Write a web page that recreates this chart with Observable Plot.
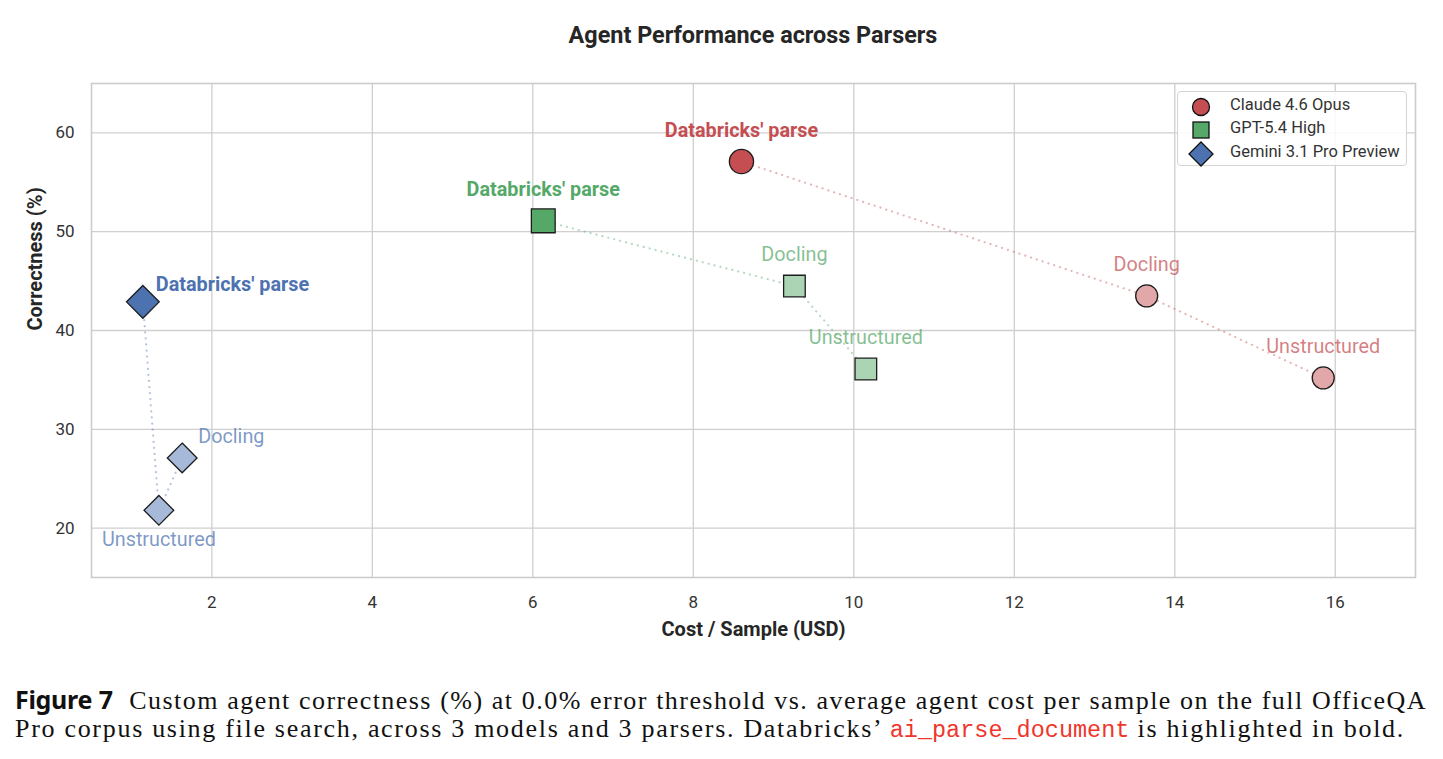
<!DOCTYPE html>
<html><head><meta charset="utf-8">
<script src="https://cdn.jsdelivr.net/npm/d3@7"></script>
<script src="https://cdn.jsdelivr.net/npm/@observablehq/plot@0.6"></script>
<style>
body{margin:0;background:#fff;}
#page{position:relative;width:1443px;height:759px;overflow:hidden;background:#fff;}
#title{position:absolute;top:0;left:91px;width:1324px;height:60px;font:700 23.4px Roboto;color:#262626;text-align:center;line-height:23px;padding-top:24px;box-sizing:border-box;}
#chart{position:absolute;top:60px;left:0;}
#legend{position:absolute;left:1177px;top:91px;width:230px;height:75px;border:1px solid #d4d4d4;border-radius:4px;background:rgba(255,255,255,0.85);box-sizing:border-box;font:16.5px Roboto;color:#333;}
.row{position:absolute;left:0;width:228px;height:24px;}
.row svg{position:absolute;left:9px;top:0;}
.row span{position:absolute;left:52px;top:1px;line-height:20px;white-space:nowrap;}
#cap{position:absolute;left:15px;top:682px;width:1412px;font:26px 'Liberation Serif',serif;line-height:26px;color:#111;}
#cap .l1{text-align:justify;text-align-last:justify;}
#cap .l2{white-space:nowrap;display:inline-block;}
#cap .fig{font:700 25px 'Noto Sans',sans-serif;letter-spacing:-0.3px;}
#cap .code{font:23.5px 'Liberation Mono',monospace;color:#f0352b;letter-spacing:0px;}
</style>
</head><body>
<div id="page">
  <div id="title">Agent Performance across Parsers</div>
  <div id="chart"></div>
  <div id="legend"></div>
  <div id="cap">
    <div class="l1" id="l1"><span class="fig">Figure 7</span>&nbsp; Custom agent correctness (%) at 0.0% error threshold vs. average agent cost per sample on the full OfficeQA</div>
    <div class="l2" id="l2">Pro corpus using file search, across 3 models and 3 parsers. Databricks’ <span class="code">ai_parse_document</span> is highlighted in bold.</div>
  </div>
</div>
<script>
// ---------- data ----------
const models = ["Claude 4.6 Opus", "GPT-5.4 High", "Gemini 3.1 Pro Preview"];
const parsers = ["Databricks' parse", "Docling", "Unstructured"];
const claudeCost = [8.60, 13.65, 15.85];
const claudeCorrect = [57.1, 43.5, 35.2];
const gptCost = [6.13, 9.26, 10.15];
const gptCorrect = [51.1, 44.5, 36.1];
const geminiCost = [1.14, 1.63, 1.34];
const geminiCorrect = [42.9, 27.1, 21.8];
const xTicks = [2, 4, 6, 8, 10, 12, 14, 16];
const yTicks = [20, 30, 40, 50, 60];

// ---------- styling ----------
const modelColor = {
  [models[0]]: "#C44E52",
  [models[1]]: "#55A868",
  [models[2]]: "#4C72B0"
};
const modelSymbol = {[models[0]]: "circle", [models[1]]: "square", [models[2]]: "diamond2"};
const baseR = {[models[0]]: 11, [models[1]]: 12.2, [models[2]]: 13.4};
const light = c => d3.interpolateRgb("#ffffff", c)(0.5);

const costs = [claudeCost, gptCost, geminiCost];
const corrects = [claudeCorrect, gptCorrect, geminiCorrect];
const data = [];
models.forEach((m, i) => parsers.forEach((p, j) => data.push({model: m, parser: p, cost: costs[i][j], correct: corrects[i][j]})));
const isMain = d => d.parser === parsers[0];
const lineData = d3.sort(data, d => d.cost);

function placement(d) {
  if (d.model === models[2]) {
    if (d.parser === parsers[0]) return "gemTop";
    if (d.parser === parsers[1]) return "gemDoc";
    return "below";
  }
  return "above";
}

const marks = [
  Plot.gridX(xTicks, {stroke: "#cfcfcf", strokeOpacity: 1, strokeWidth: 1.3}),
  Plot.gridY(yTicks, {stroke: "#cfcfcf", strokeOpacity: 1, strokeWidth: 1.3}),
  Plot.frame({stroke: "#cccccc", strokeWidth: 1.6}),
  Plot.axisX(xTicks, {tickSize: 0, tickPadding: 18, fontSize: 17, color: "#333", label: null}),
  Plot.axisY(yTicks, {tickSize: 0, tickPadding: 17, fontSize: 17, color: "#333", label: null}),
  Plot.text(["Cost / Sample (USD)"], {frameAnchor: "bottom", dy: 52, lineAnchor: "middle", fontSize: 20, fontWeight: 700, fill: "#262626"}),
  Plot.text(["Correctness (%)"], {frameAnchor: "left", dx: -56, rotate: -90, lineAnchor: "middle", fontSize: 20, fontWeight: 700, fill: "#262626"}),
  Plot.line(lineData, {x: "cost", y: "correct", z: "model", stroke: d => modelColor[d.model], strokeOpacity: 0.42, strokeWidth: 2.2, strokeDasharray: "0.1,6", strokeLinecap: "round"})
];

for (const m of models) {
  for (const main of [true, false]) {
    marks.push(Plot.dot(data.filter(d => d.model === m && isMain(d) === main), {
      x: "cost", y: "correct", symbol: modelSymbol[m],
      r: baseR[m] * (main ? 1.1 : 1),
      fill: main ? modelColor[m] : light(modelColor[m]),
      stroke: "#1c1c1c", strokeWidth: 1.3
    }));
  }
}

const labelCommon = {x: "cost", y: "correct", text: "parser", fill: d => modelColor[d.model], fontSize: 19.8, lineAnchor: "middle"};
marks.push(
  Plot.text(data.filter(d => placement(d) === "above" && isMain(d)), {...labelCommon, dy: -31, fontWeight: 700}),
  Plot.text(data.filter(d => placement(d) === "above" && !isMain(d)), {...labelCommon, dy: -31, fillOpacity: 0.72}),
  Plot.text(data.filter(d => placement(d) === "gemTop"), {...labelCommon, dx: 13, dy: -17, textAnchor: "start", fontWeight: 700}),
  Plot.text(data.filter(d => placement(d) === "gemDoc"), {...labelCommon, dx: 16, dy: -21, textAnchor: "start", fillOpacity: 0.72}),
  Plot.text(data.filter(d => placement(d) === "below"), {...labelCommon, dy: 29, fillOpacity: 0.72})
);

const chart = Plot.plot({
  width: 1443, height: 595,
  marginTop: 23, marginBottom: 78, marginLeft: 91, marginRight: 28,
  x: {domain: [0.5, 17]},
  y: {domain: [15, 65]},
  color: {type: "identity"},
  style: {fontFamily: "Roboto", background: "transparent", color: "#333"},
  marks
});
document.getElementById("chart").appendChild(chart);

// ---------- legend ----------
const legend = document.getElementById("legend");
const rowTops = [2, 25, 48];
const legendShapes = [
  c => `<circle cx="14" cy="12" r="8.5" fill="${c}" stroke="#111" stroke-width="1.3"/>`,
  c => `<rect x="6" y="4" width="16" height="16" fill="${c}" stroke="#111" stroke-width="1.3"/>`,
  c => `<path d="M14,0 L26,12 L14,24 L2,12 Z" fill="${c}" stroke="#111" stroke-width="1.3"/>`
];
models.forEach((m, i) => {
  const row = document.createElement("div");
  row.className = "row";
  row.style.top = (rowTops[i] + (i === 2 ? 1 : 0)) + "px";
  row.innerHTML = `<svg width="28" height="26" viewBox="0 -1 28 26">${legendShapes[i](modelColor[m])}</svg><span>${m}</span>`;
  legend.appendChild(row);
});

// ---------- caption fitting ----------
function fit(el, target) {
  el.style.letterSpacing = "0px";
  const r = document.createRange(); r.selectNodeContents(el);
  const w = r.getBoundingClientRect().width;
  let fixed = 0;
  el.querySelectorAll(".fig,.code").forEach(s => fixed += s.textContent.length);
  const n = el.textContent.length - fixed;
  el.style.letterSpacing = Math.max(0, (target - w) / n) + "px";
}
const l1 = document.getElementById("l1");
l1.style.display = "inline-block"; l1.style.whiteSpace = "nowrap";
fit(l1, 1404);
l1.style.display = "block"; l1.style.whiteSpace = "normal";
fit(document.getElementById("l2"), 1390);
</script>
</body></html>
